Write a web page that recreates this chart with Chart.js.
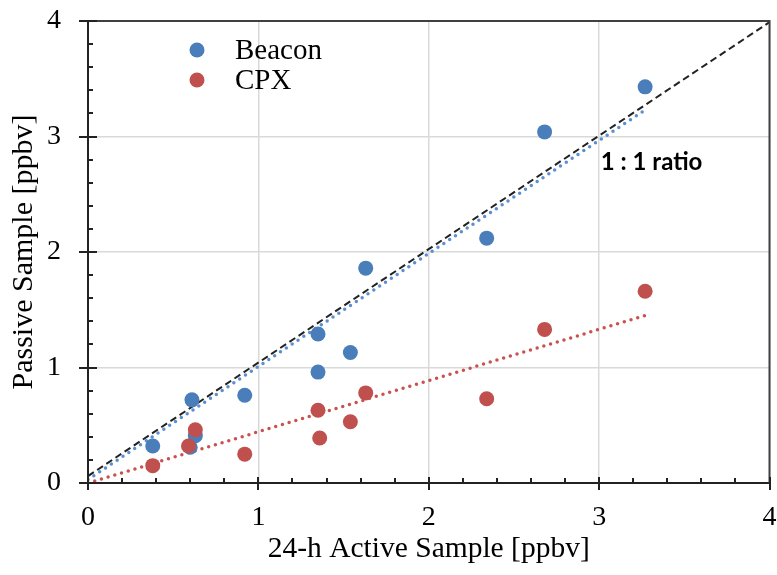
<!DOCTYPE html>
<html>
<head>
<meta charset="utf-8">
<script src="https://cdn.jsdelivr.net/npm/chart.js@4.4.1/dist/chart.umd.min.js"></script>
<style>
  html, body { margin: 0; background: #fff; }
</style>
</head>
<body>
<canvas id="grafico" width="777" height="575"></canvas>
<script>
// valores
const beaconX = [0.38, 0.60, 0.61, 0.63, 0.92, 1.35, 1.35, 1.54, 1.63, 2.34, 2.68, 3.27];
const beaconY = [0.32, 0.31, 0.72, 0.41, 0.76, 1.29, 0.96, 1.13, 1.86, 2.12, 3.04, 3.43];
const cpxX = [0.38, 0.59, 0.63, 0.92, 1.35, 1.36, 1.54, 1.63, 2.34, 2.68, 3.27];
const cpxY = [0.15, 0.32, 0.46, 0.25, 0.63, 0.39, 0.53, 0.78, 0.73, 1.33, 1.66];

// líneas de tendencia y 1:1 (extremos)
const beaconTrendX = [0, 3.27];
const beaconTrendY = [0.03, 3.23];
const cpxTrendX = [0, 3.27];
const cpxTrendY = [0.0, 1.45];
const ratioX = [0, 4];
const ratioY = [0.06, 3.99];

const axisTicks = [0, 1, 2, 3, 4];
const seriesNames = ['Beacon', 'CPX'];
const ratioLabel = '1 : 1 ratio';
const xTitle = '24-h Active Sample [ppbv]';
const yTitle = 'Passive Sample [ppbv]';

const AZUL = '#4a7ebb';
const ROJO = '#c0504d';
const SERIF = "'Liberation Serif', 'Times New Roman', serif";

const pts = (xs, ys) => xs.map((x, i) => ({ x, y: ys[i] }));

const marcos = {
  id: 'marcos',
  afterDraw(chart) {
    const { ctx, chartArea: a, scales: { x, y } } = chart;
    ctx.save();
    // borde superior y derecho
    ctx.strokeStyle = '#404040';
    ctx.lineWidth = 2;
    ctx.beginPath();
    ctx.moveTo(a.left, a.top);
    ctx.lineTo(a.right, a.top);
    ctx.lineTo(a.right, a.bottom);
    ctx.stroke();

    // marcas menores y mayores
    ctx.strokeStyle = '#222';
    ctx.lineWidth = 2;
    ctx.beginPath();
    for (let i = 0; i <= 20; i++) {
      const v = i * 0.2;
      const px = Math.round(x.getPixelForValue(v));
      const py = Math.round(y.getPixelForValue(v));
      if (i % 5 === 0) {
        ctx.moveTo(px, a.bottom - 6); ctx.lineTo(px, a.bottom + 7);
        ctx.moveTo(a.left - 9, py); ctx.lineTo(a.left + 9, py);
      } else {
        ctx.moveTo(px, a.bottom - 5); ctx.lineTo(px, a.bottom);
        ctx.moveTo(a.left, py); ctx.lineTo(a.left + 5, py);
      }
    }
    ctx.stroke();

    // leyenda dentro del área
    const colores = [AZUL, ROJO];
    ctx.font = `29px ${SERIF}`;
    ctx.textBaseline = 'middle';
    ctx.textAlign = 'left';
    seriesNames.forEach((n, i) => {
      const cy = 50 + i * 30;
      ctx.fillStyle = colores[i];
      ctx.beginPath();
      ctx.arc(197, cy, 7.5, 0, Math.PI * 2);
      ctx.fill();
      ctx.fillStyle = '#000';
      ctx.fillText(n, 235, cy + 1);
    });

    // etiqueta 1:1
    ctx.font = "bold 24px Lato, 'Open Sans', sans-serif";
    ctx.fillStyle = '#000';
    ctx.fillText(ratioLabel, x.getPixelForValue(3.01), y.getPixelForValue(2.78));
    ctx.restore();
  },
};

new Chart(document.getElementById('grafico'), {
  type: 'scatter',
  data: {
    datasets: [
      { label: seriesNames[1], data: pts(cpxX, cpxY), backgroundColor: ROJO, borderColor: ROJO, pointRadius: 7.5, pointHoverRadius: 7.5, borderWidth: 0, order: 0 },
      { label: seriesNames[0], data: pts(beaconX, beaconY), backgroundColor: AZUL, borderColor: AZUL, pointRadius: 7.5, pointHoverRadius: 7.5, borderWidth: 0, order: 1 },
      { data: pts(ratioX, ratioY), showLine: true, pointRadius: 0, borderColor: '#222', borderWidth: 2, borderDash: [7, 4], order: 3 },
      { data: pts(beaconTrendX, beaconTrendY), showLine: true, pointRadius: 0, borderColor: '#5b8fd0', borderWidth: 3.5, borderDash: [0, 7], borderCapStyle: 'round', order: 2 },
      { data: pts(cpxTrendX, cpxTrendY), showLine: true, pointRadius: 0, borderColor: '#c9514e', borderWidth: 3.5, borderDash: [0, 7], borderCapStyle: 'round', order: 2 },
    ],
  },
  options: {
    responsive: false,
    animation: false,
    events: [],
    layout: { padding: { top: 21, right: 5, left: 0, bottom: 0 } },
    plugins: { legend: { display: false }, tooltip: { enabled: false } },
    scales: {
      x: {
        type: 'linear',
        min: 0,
        max: 4,
        afterBuildTicks: (s) => { s.ticks = axisTicks.map((v) => ({ value: v })); },
        afterFit: (s) => { s.height = 92; s.paddingLeft = 0; s.paddingRight = 0; },
        ticks: { font: { family: SERIF, size: 28 }, color: '#000', padding: 18, maxRotation: 0 },
        grid: { color: '#d9d9d9', lineWidth: 1.5, drawTicks: false },
        border: { display: true, color: '#222', width: 2 },
        title: { display: true, text: xTitle, font: { family: SERIF, size: 29.5 }, color: '#000', padding: { top: 0, bottom: 8 } },
      },
      y: {
        type: 'linear',
        min: 0,
        max: 4,
        afterBuildTicks: (s) => { s.ticks = axisTicks.map((v) => ({ value: v })); },
        afterFit: (s) => { s.width = 88; s.paddingTop = 0; s.paddingBottom = 0; },
        ticks: { font: { family: SERIF, size: 28 }, color: '#000', padding: 27 },
        grid: { color: '#d9d9d9', lineWidth: 1.5, drawTicks: false },
        border: { display: true, color: '#222', width: 2 },
        title: { display: true, text: yTitle, font: { family: SERIF, size: 30 }, color: '#000', padding: { top: 6, bottom: 0 } },
      },
    },
  },
  plugins: [marcos],
});
</script>
</body>
</html>
